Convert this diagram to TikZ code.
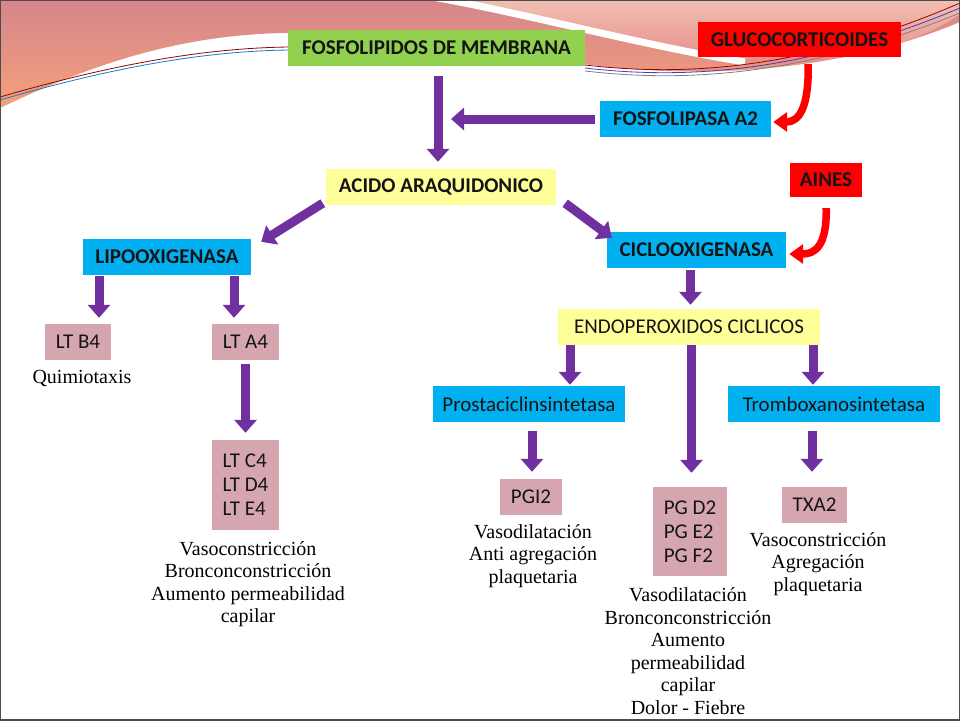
\documentclass[tikz,border=0pt]{standalone}
\usepackage{fontspec}
\setsansfont{Carlito}
\setmainfont{Liberation Serif}
\usetikzlibrary{arrows.meta}
\definecolor{verde}{HTML}{92D050}
\definecolor{rojo}{HTML}{FF0000}
\definecolor{celeste}{HTML}{00B0F0}
\definecolor{amarillo}{HTML}{FFFF99}
\definecolor{rosa}{RGB}{214,166,176}
\definecolor{morado}{HTML}{7030A0}
\definecolor{fondo1}{RGB}{214,134,140}
\definecolor{fondo2}{RGB}{244,160,122}
\definecolor{fondo3}{RGB}{240,192,178}
\definecolor{fondo4}{RGB}{230,134,134}
\newcommand{\boxfont}{\sffamily\fontsize{21}{24}\selectfont}
\newcommand{\fxfont}{\rmfamily\fontsize{20}{22.5}\selectfont}
\tikzset{box/.style = {inner sep = 0pt, minimum height = 36pt, text = black!92, font = \boxfont}}
\tikzset{boldbox/.style = {box, font = \boxfont\bfseries}}
\tikzset{fx/.style = {align = center, font = \fxfont}}
\tikzset{flow/.style = {draw = morado, line width = 9pt, -{Triangle[width = 22pt, length = 13pt]}}}
\tikzset{block/.style = {draw = rojo, line width = 7.5pt, -{Triangle[width = 19pt, length = 14pt]}}}
\tikzset{hilo/.style = {line width = 0.8pt}}

\begin{document}
\begin{tikzpicture}[x = 1pt, y = -1pt]
    \useasboundingbox (0, 0) rectangle (960, 720);
    \fill [white] (0, 0) rectangle (960, 720);

    \shade [top color = fondo1, bottom color = fondo2] (0, 0) -- (960, 0) -- (960, 22) .. controls (850, 68) and (720, 80) .. (600, 66) .. controls (480, 52) and (400, 31) .. (285, 33) .. controls (170, 35) and (80, 70) .. (0, 108) -- cycle;
    \shade [top color = fondo3, bottom color = fondo4] (430, 0) .. controls (520, 12) and (640, 45) .. (740, 60) .. controls (840, 70) and (920, 42) .. (960, 14) -- (960, 0) -- cycle;
    \draw [white, line width = 7pt] (432, -3) .. controls (520, 12) and (640, 45) .. (745, 62);
    \draw [hilo, red!60!black] (0, 97) .. controls (90, 71) and (190, 48) .. (290, 47);
    \draw [hilo, cyan!60!blue] (0, 100) .. controls (90, 74) and (190, 51) .. (290, 50);
    \draw [hilo, red!60!black] (585, 65) .. controls (680, 76) and (800, 72) .. (960, 3);
    \draw [hilo, blue!50!gray] (585, 68) .. controls (680, 79) and (800, 75) .. (960, 8);
    \draw [hilo, gray] (585, 71) .. controls (680, 82) and (800, 78) .. (960, 13);

    \node [boldbox, fill = verde, minimum width = 297pt] (fosfo) at (436.5, 48) {FOSFOLIPIDOS DE MEMBRANA};
    \node [boldbox, fill = rojo, minimum width = 203pt, minimum height = 35pt] (gluco) at (799.5, 39.5) {GLUCOCORTICOIDES};
    \node [boldbox, fill = celeste, minimum width = 171pt] (fosfa) at (685.5, 119) {FOSFOLIPASA A2};
    \node [boldbox, fill = amarillo, minimum width = 230pt] (acido) at (441, 187) {ACIDO ARAQUIDONICO};
    \node [boldbox, fill = rojo, minimum width = 72pt, minimum height = 34pt] (aines) at (826, 180) {AINES};
    \node [boldbox, fill = celeste, minimum width = 168pt] (lipo) at (167, 257) {LIPOOXIGENASA};
    \node [boldbox, fill = celeste, minimum width = 179pt] (ciclo) at (696.5, 250) {CICLOOXIGENASA};
    \node [box, fill = rosa, minimum width = 66pt] (ltb) at (78, 342) {LT B4};
    \node [box, fill = rosa, minimum width = 67pt] (lta) at (245.5, 342) {LT A4};
    \node [box, fill = amarillo, minimum width = 262pt] (endo) at (689, 327) {ENDOPEROXIDOS CICLICOS};
    \node [box, fill = celeste, minimum width = 192pt] (prosta) at (529, 404) {Prostaciclinsintetasa};
    \node [box, fill = celeste, minimum width = 212pt] (tromb) at (834, 404) {Tromboxanosintetasa};
    \node [box, fill = rosa, minimum width = 67pt, minimum height = 90pt, align = left] (ltc) at (245.5, 485) {LT C4\\LT D4\\LT E4};
    \node [box, fill = rosa, minimum width = 62pt] (pgi) at (531, 497) {PGI2};
    \node [box, fill = rosa, minimum width = 74pt, minimum height = 89pt, align = left] (pgd) at (690, 531.5) {PG D2\\PG E2\\PG F2};
    \node [box, fill = rosa, minimum width = 65pt] (txa) at (814.5, 505) {TXA2};

    \node [fx] (quimio) at (82, 378) {Quimiotaxis};
    \node [fx] (ltfx) at (248, 584) {Vasoconstricción\\Bronconconstricción\\Aumento permeabilidad\\capilar};
    \node [fx] (pgifx) at (533, 556) {Vasodilatación\\Anti agregación\\plaquetaria};
    \node [fx] (pgfx) at (688, 651) {Vasodilatación\\Bronconconstricción\\Aumento\\permeabilidad\\capilar\\Dolor - Fiebre};
    \node [fx] (txfx) at (818, 564) {Vasoconstricción\\Agregación\\plaquetaria};

    \coordinate (hit) at (fosfa.west -| fosfo.south);
    \draw [flow, shorten <= 10pt, shorten >= 7pt] ([xshift = 1.5pt]fosfo.south) -- ([xshift = 1.5pt]fosfo.south |- acido.north);
    \draw [flow, shorten <= 5pt, shorten >= 14.5pt] (fosfa.west) -- (hit);
    \draw [flow] ([xshift = -3pt, yshift = 2pt]acido.south west) -- ([xshift = 10pt, yshift = -3pt]lipo.north east);
    \draw [flow] ([xshift = 9pt, yshift = 2pt]acido.south east) -- ([xshift = 5pt, yshift = -6pt]ciclo.north west);
    \draw [flow, shorten <= 1pt, shorten >= 6pt] ([xshift = 21pt]ltb.north |- lipo.south) -- ([xshift = 21pt]ltb.north);
    \draw [flow, shorten <= 1pt, shorten >= 6pt] ([xshift = -11.5pt]lta.north |- lipo.south) -- ([xshift = -11.5pt]lta.north);
    \draw [flow, shorten <= 3.5pt, shorten >= 7pt] (lta.south) -- (ltc.north);
    \draw [flow, shorten <= 2pt, shorten >= 4pt] ([xshift = 1.5pt]endo.north |- ciclo.south) -- ([xshift = 1.5pt]endo.north);
    \draw [flow, shorten >= 1pt] ([xshift = 41pt]prosta.north |- endo.south) -- ([xshift = 41pt]prosta.north);
    \draw [flow, shorten >= 14pt] ([xshift = 2.5pt]endo.south) -- ([xshift = 2.5pt]endo.south |- pgd.north);
    \draw [flow, shorten >= 1pt] ([xshift = -21pt]tromb.north |- endo.south) -- ([xshift = -21pt]tromb.north);
    \draw [flow, shorten <= 9pt, shorten >= 7pt] ([xshift = 1pt]pgi.north |- prosta.south) -- ([xshift = 1pt]pgi.north);
    \draw [flow, shorten <= 9pt, shorten >= 15pt] ([xshift = -2.5pt]txa.north |- tromb.south) -- ([xshift = -2.5pt]txa.north);

    \draw [block, shorten <= 7pt, shorten >= 2pt] ([xshift = 8.5pt]gluco.south) .. controls +(1, 50) and +(28, 0) .. ([yshift = -3pt]fosfa.east);
    \draw [block, shorten <= 11pt, shorten >= 3pt] (aines.south) .. controls +(1, 50) and +(28, 0) .. ([yshift = -4pt]ciclo.east);

    \draw [black!70, line width = 2pt] (0, 0) rectangle (960, 720);
\end{tikzpicture}
\end{document}
